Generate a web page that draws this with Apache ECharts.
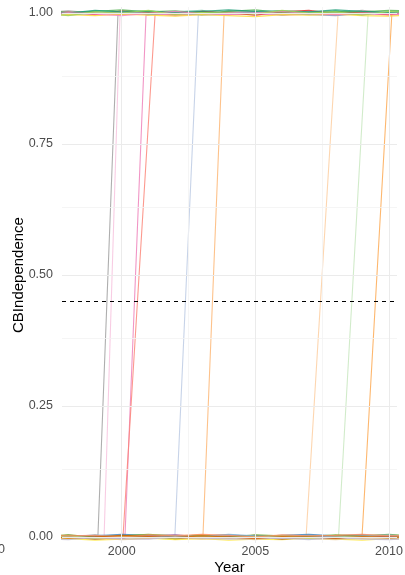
<!DOCTYPE html>
<html>
<head>
<meta charset="utf-8">
<script src="https://cdn.jsdelivr.net/npm/echarts@6/dist/echarts.min.js"></script>
<style>html,body{margin:0;padding:0;background:#fff;}#chart{width:405px;height:575px;}</style>
</head>
<body>
<div id="chart"></div>
<script>
// ---- data ----
const years = [1997,1998,1999,2000,2001,2002,2003,2004,2005,2006,2007,2008,2009,2010,2011];
const yTicks = [0, 0.25, 0.5, 0.75, 1];
const yMinorGrid = [0.125, 0.375, 0.625, 0.875];
const xTicks = [2000, 2005, 2010];
const xMinorGrid = [2002.5, 2007.5];
const threshold = 0.45;

// countries that stay independent (≈1, jittered)
const top01 = [1.003,0.998,1.004,1.001,0.997,1.002,1.005,0.999,1.003,0.996,1.001,1.004,0.998,1.002,1.000];
const top02 = [0.999,1.002,0.997,1.004,1.001,0.998,1.003,1.000,0.996,1.002,1.005,0.999,1.001,0.997,1.003];
const top03 = [0.996,0.999,1.001,0.997,1.000,0.995,0.998,1.002,0.999,0.996,0.998,1.000,0.997,0.999,0.996];
const top04 = [1.001,1.004,1.000,0.998,1.003,1.001,0.997,1.004,1.002,0.999,1.003,1.001,1.005,1.000,1.002];
const top05 = [1.005,1.001,1.003,1.006,1.002,1.004,1.000,1.003,1.006,1.001,0.999,1.003,1.002,1.005,1.004];
const top06 = [0.998,0.996,0.999,1.002,0.998,1.000,0.996,0.998,1.001,0.999,0.997,0.995,0.999,1.001,0.998];
const top07 = [0.994,0.997,0.995,0.998,0.996,0.994,0.997,0.995,0.993,0.997,0.996,0.998,0.995,0.994,0.997];
const top08 = [1.002,1.000,1.005,1.002,1.004,1.001,1.003,1.006,1.003,1.004,1.002,1.006,1.003,1.001,1.005];
const top09 = [0.997,1.001,0.998,0.995,0.999,1.003,0.999,0.997,1.000,1.003,0.999,0.997,1.000,0.998,0.999];
const top10 = [1.000,0.995,1.002,1.000,1.005,0.997,1.001,1.000,0.998,1.005,1.000,1.002,0.996,1.003,1.001];
const topColors = ['#66c2a5','#e41a1c','#e78ac3','#999999','#4daf4a','#8da0cb','#ffd92f','#1b9e77','#f781bf','#a6d854'];

// countries that stay dependent (≈0, jittered)
const bot01 = [-0.005,-0.003,-0.006,-0.004,-0.002,-0.005,-0.003,-0.006,-0.004,-0.005,-0.002,-0.004,-0.006,-0.003,-0.005];
const bot02 = [0.002,-0.001,0.003,0.000,-0.002,0.001,0.004,0.000,0.002,-0.001,0.003,0.001,-0.002,0.002,0.000];
const bot03 = [0.004,0.001,0.002,0.005,0.003,0.000,0.002,0.004,0.001,0.003,0.005,0.002,0.004,0.001,0.003];
const bot04 = [-0.002,0.000,-0.004,-0.001,0.001,-0.003,-0.001,-0.002,0.000,-0.004,-0.001,-0.003,0.000,-0.002,-0.001];
const bot05 = [0.000,0.003,0.001,-0.002,0.002,0.004,0.000,0.001,0.003,0.000,-0.001,0.002,0.003,0.000,0.002];
const bot06 = [0.001,0.004,0.000,0.002,0.005,0.002,0.003,0.000,0.004,0.002,0.001,0.004,0.002,0.005,0.001];
const bot07 = [-0.004,-0.001,-0.002,-0.005,-0.003,-0.001,-0.004,-0.002,-0.005,-0.001,-0.003,-0.005,-0.002,-0.004,-0.003];
const bot08 = [0.003,0.000,0.004,0.001,-0.001,0.003,0.001,0.005,0.002,0.000,0.003,0.000,0.002,0.004,0.001];
const bot09 = [-0.001,0.002,-0.002,0.001,0.000,-0.002,0.002,-0.001,0.001,0.002,-0.002,0.000,0.001,-0.001,0.002];
const bot10 = [0.005,0.002,0.003,0.000,0.004,0.002,0.005,0.003,0.000,0.004,0.002,0.003,0.005,0.002,0.004];
const bot11 = [-0.003,-0.005,-0.001,-0.003,-0.004,0.000,-0.002,-0.004,-0.003,-0.002,-0.005,-0.001,-0.004,-0.005,-0.002];
const bot12 = [0.001,-0.002,0.000,0.003,0.001,-0.001,0.002,0.000,-0.003,0.001,0.000,-0.002,0.001,0.000,-0.001];
const botColors = ['#ffe633','#ff7f00','#377eb8','#a65628','#984ea3','#66a61e','#e5c494','#80b1d3','#b3de69','#fc8d62','#bebada','#d95f02'];

// countries that switch from 0 to 1 (with jittered years)
const sw01 = [0.002,-0.003,0.001,0.998,1.003,0.999,1.002,0.997,1.001,1.004,0.998,1.000,1.003,0.999,1.001];
const sw01x = [1997,1998,1999.11,1999.86,2001,2002,2003,2004,2005,2006,2007,2008,2009,2010,2011];
const sw02 = [-0.002,0.001,-0.004,1.001,0.997,1.003,0.999,1.002,0.996,1.000,1.003,0.998,1.001,0.997,1.002];
const sw02x = [1997,1998,1999.34,1999.94,2001,2002,2003,2004,2005,2006,2007,2008,2009,2010,2011];
const sw03 = [0.003,0.000,0.002,-0.003,0.996,1.001,0.998,1.002,0.999,0.997,1.001,0.998,1.000,0.996,0.999];
const sw03x = [1997,1998,1999,2000.12,2000.91,2002,2003,2004,2005,2006,2007,2008,2009,2010,2011];
const sw04 = [-0.001,0.003,-0.002,0.001,0.998,0.996,1.000,0.997,0.999,1.002,0.998,0.996,0.999,1.001,0.997];
const sw04x = [1997,1998,1999,2000.05,2001.25,2002,2003,2004,2005,2006,2007,2008,2009,2010,2011];
const sw05 = [0.001,-0.002,0.003,0.000,-0.003,0.002,1.001,0.998,1.003,0.999,1.002,0.997,1.000,1.003,0.998];
const sw05x = [1997,1998,1999,2000,2001,2001.99,2002.87,2004,2005,2006,2007,2008,2009,2010,2011];
const sw06 = [-0.003,0.001,-0.001,0.002,0.000,-0.002,0.001,0.997,1.002,0.999,1.001,0.996,1.003,0.998,1.000];
const sw06x = [1997,1998,1999,2000,2001,2002,2003.04,2003.83,2005,2006,2007,2008,2009,2010,2011];
const sw07 = [0.002,0.004,0.000,0.003,0.001,0.004,0.002,0.000,0.003,0.001,0.002,1.002,0.998,1.001,0.999];
const sw07x = [1997,1998,1999,2000,2001,2002,2003,2004,2005,2006,2006.9,2008.1,2009,2010,2011];
const sw08 = [-0.004,-0.001,-0.003,0.000,-0.002,-0.004,-0.001,-0.003,0.000,-0.002,-0.004,-0.001,0.999,1.002,0.998];
const sw08x = [1997,1998,1999,2000,2001,2002,2003,2004,2005,2006,2007,2008.11,2009.22,2010,2011];
const sw09 = [0.000,0.002,-0.001,0.003,0.001,-0.002,0.002,0.000,0.003,-0.001,0.001,0.003,0.000,1.001,0.998];
const sw09x = [1997,1998,1999,2000,2001,2002,2003,2004,2005,2006,2007,2008,2008.99,2010.11,2011];
const swColors = ['#9a9a9a','#f6bfdc','#ee7bb6','#fb8072','#b9c8e2','#fdb36e','#fdcc9c','#c5e6bd','#fda54a'];

// ---- build ----
const FONT = 'Liberation Sans';
function mkLine(ys, xs, color, w, op) {
  return {
    type: 'line', symbol: 'none', showSymbol: false, silent: true, clip: true,
    data: ys.map((v, i) => [xs[i], v]),
    lineStyle: { width: w, color: color, opacity: op },
    z: 3
  };
}
const series = [];
series.push({
  type: 'line', data: [], silent: true, z: 1,
  markLine: {
    silent: true, symbol: 'none', animation: false, label: { show: false },
    data: [
      ...yMinorGrid.map(v => ({ yAxis: v, lineStyle: { color: '#f2f2f2', width: 0.8, type: 'solid' } })),
      ...xMinorGrid.map(v => ({ xAxis: v, lineStyle: { color: '#f2f2f2', width: 0.8, type: 'solid' } })),
      ...yTicks.map(v => ({ yAxis: v, lineStyle: { color: '#ebebeb', width: 1, type: 'solid' } })),
      ...xTicks.map(v => ({ xAxis: v, lineStyle: { color: '#ebebeb', width: 1, type: 'solid' } }))
    ]
  }
});
const swList = [[sw01,sw01x],[sw02,sw02x],[sw03,sw03x],[sw04,sw04x],[sw05,sw05x],[sw06,sw06x],[sw07,sw07x],[sw08,sw08x],[sw09,sw09x]];
swList.forEach((p, i) => series.push(mkLine(p[0], p[1], swColors[i], 1.1, 0.8)));
[bot01,bot02,bot03,bot04,bot05,bot06,bot07,bot08,bot09,bot10,bot11,bot12].forEach((a, i) => series.push(mkLine(a, years, botColors[i], 1.2, 0.8)));
[top01,top02,top03,top04,top05,top06,top07,top08,top09,top10].forEach((a, i) => series.push(mkLine(a, years, topColors[i], 1.2, 0.8)));
series.push({
  type: 'line', data: [], silent: true, z: 10,
  markLine: {
    silent: true, symbol: 'none', animation: false, label: { show: false },
    data: [{ yAxis: threshold }],
    lineStyle: { color: '#000', width: 1, type: [4, 4] }
  }
});

const chart = echarts.init(document.getElementById('chart'), null, { renderer: 'canvas' });
chart.setOption({
  animation: false,
  backgroundColor: '#fff',
  grid: { left: 62, right: 8, top: 7, bottom: 32, containLabel: false, outerBoundsMode: 'none' },
  xAxis: {
    type: 'value', min: 1997.767, max: 2010.30,
    name: 'Year', nameLocation: 'middle', nameGap: 17.5, nameMoveOverlap: false,
    nameTextStyle: { fontFamily: FONT, fontSize: 15, color: '#000' },
    axisLine: { show: false }, axisTick: { show: false },
    splitLine: { show: false },
    axisLabel: { customValues: xTicks, fontFamily: FONT, fontSize: 12.5, color: '#4d4d4d', margin: 2,
      formatter: v => String(v) }
  },
  yAxis: {
    type: 'value', min: -0.01145, max: 1.01145,
    name: 'CBIndependence', nameLocation: 'middle', nameGap: 36, nameRotate: 90, nameMoveOverlap: false,
    nameTextStyle: { fontFamily: FONT, fontSize: 15, color: '#000' },
    axisLine: { show: false }, axisTick: { show: false },
    splitLine: { show: false },
    axisLabel: { customValues: yTicks, fontFamily: FONT, fontSize: 12.5, color: '#4d4d4d', margin: 9,
      formatter: v => Number(v).toFixed(2) }
  },
  graphic: [{
    type: 'text', silent: true,
    style: { text: '2010', x: 5, y: 550, align: 'right', verticalAlign: 'middle',
      font: '12.5px "Liberation Sans"', fill: '#4d4d4d' }
  }],
  series: series
});
</script>
</body>
</html>
